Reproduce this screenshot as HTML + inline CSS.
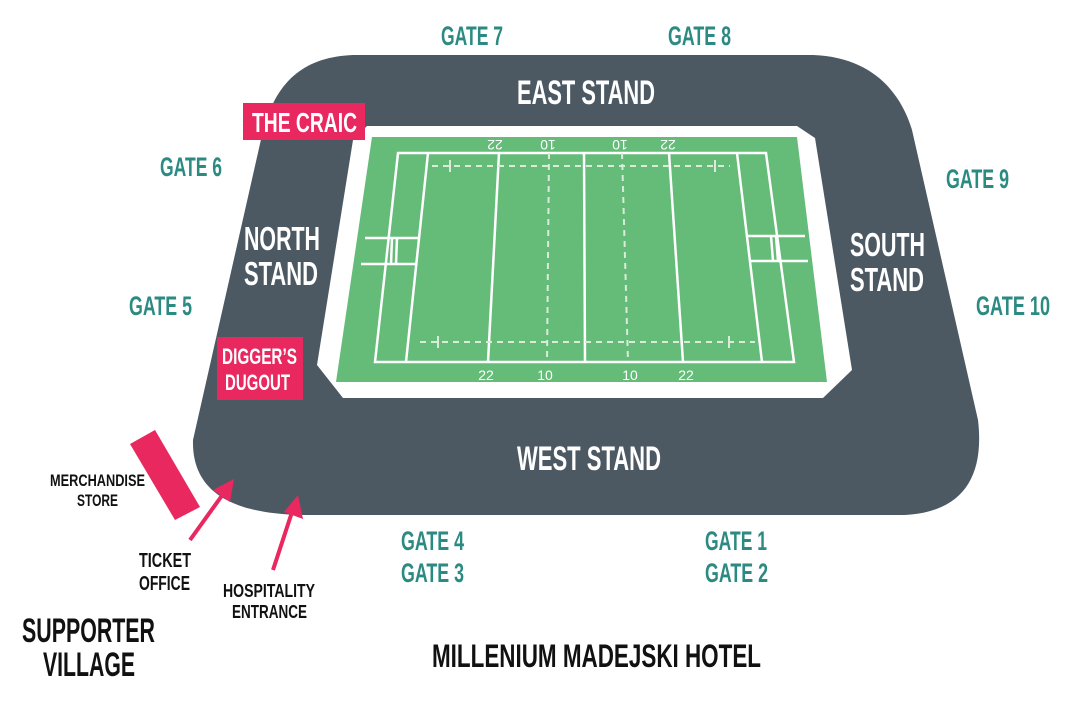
<!DOCTYPE html>
<html><head><meta charset="utf-8"><style>
html,body{margin:0;padding:0;background:#fff;}
svg{display:block}
text{font-family:"Liberation Sans Narrow","Liberation Sans",sans-serif;font-weight:bold;}
.g{fill:#2b8a82;font-size:27px}
.w{fill:#fff}
.k{fill:#111}
.n{font-family:"Liberation Sans",sans-serif;font-weight:normal;fill:#fff;font-size:14px}
</style></head><body>
<svg width="1077" height="703" viewBox="0 0 1077 703" xmlns="http://www.w3.org/2000/svg">
<rect width="1077" height="703" fill="#fff"/>
<!-- stadium -->
<path d="M353,55 L813,55 C870,57 900,90 912,130 L978,420 C985,480 960,512 905,515 L300,515 C215,513 192,480 193,440 L262,135 C275,80 305,57 353,55 Z" fill="#4c5963"/>
<!-- white border -->
<polygon points="367,126 797,126 815,138 852,370 823,398 343,398 317,365 353,140" fill="#fff"/>
<!-- field -->
<polygon points="372,137 797,137 827,382 336,382" fill="#64bc78"/>
<g stroke="#fff" stroke-width="2.5" fill="none">
<polygon points="398,153 766,153 794,362 375,362"/>
<line x1="428" y1="153" x2="406" y2="362"/>
<line x1="499" y1="153" x2="488" y2="362"/>
<line x1="584" y1="153" x2="585" y2="362"/>
<line x1="669" y1="153" x2="683" y2="362"/>
<line x1="737" y1="153" x2="762" y2="362"/>
<line x1="365" y1="238" x2="420" y2="238"/>
<line x1="361" y1="264" x2="416" y2="264"/>
<line x1="392" y1="238" x2="391" y2="264"/>
<line x1="397" y1="238" x2="396" y2="264"/>
<line x1="748" y1="236" x2="805" y2="236"/>
<line x1="750" y1="261" x2="808" y2="261"/>
<line x1="771" y1="236" x2="773" y2="261"/>
<line x1="776" y1="236" x2="778" y2="261"/>
</g>
<g stroke="#d8ecd9" stroke-width="2" fill="none" stroke-dasharray="6,5">
<line x1="549" y1="153" x2="547" y2="362"/>
<line x1="622" y1="153" x2="628" y2="362"/>
<line x1="432" y1="166" x2="730" y2="166"/>
<line x1="420" y1="342" x2="755" y2="342"/>
</g>
<g stroke="#d8ecd9" stroke-width="2">
<line x1="450" y1="160" x2="450" y2="172"/><line x1="715" y1="160" x2="715" y2="172"/>
<line x1="438" y1="336" x2="438" y2="348"/><line x1="729" y1="336" x2="729" y2="348"/>
</g>
<text class="n" text-anchor="middle" transform="translate(495,140) rotate(180)">22</text>
<text class="n" text-anchor="middle" transform="translate(548,140) rotate(180)">10</text>
<text class="n" text-anchor="middle" transform="translate(620,140) rotate(180)">10</text>
<text class="n" text-anchor="middle" transform="translate(668,140) rotate(180)">22</text>
<text class="n" x="486" y="380" text-anchor="middle">22</text>
<text class="n" x="545" y="380" text-anchor="middle">10</text>
<text class="n" x="630" y="380" text-anchor="middle">10</text>
<text class="n" x="686" y="380" text-anchor="middle">22</text>
<!-- pink boxes -->
<rect x="243" y="103" width="122" height="37" fill="#e8285f"/>
<text class="w" x="252" y="132" font-size="28" textLength="105" lengthAdjust="spacingAndGlyphs">THE CRAIC</text>
<rect x="217" y="337" width="86" height="63" fill="#e8285f"/>
<text class="w" x="222" y="364" font-size="22" textLength="75" lengthAdjust="spacingAndGlyphs">DIGGER’S</text>
<text class="w" x="225" y="390" font-size="22" textLength="65" lengthAdjust="spacingAndGlyphs">DUGOUT</text>
<polygon points="130,444 155,430 200,507 175,520" fill="#e8285f"/>
<!-- arrows -->
<g stroke="#e8285f" stroke-width="4">
<line x1="190" y1="540" x2="226" y2="490"/>
<line x1="273" y1="570" x2="294" y2="506"/>
</g>
<polygon points="234,479 230,502 213,490" fill="#e8285f"/>
<polygon points="298,495 303,519 284,512" fill="#e8285f"/>
<!-- stand labels -->
<text class="w" x="517" y="104" font-size="34" textLength="138" lengthAdjust="spacingAndGlyphs">EAST STAND</text>
<text class="w" x="517" y="470" font-size="34" textLength="144" lengthAdjust="spacingAndGlyphs">WEST STAND</text>
<text class="w" x="244" y="250" font-size="33" textLength="76" lengthAdjust="spacingAndGlyphs">NORTH</text>
<text class="w" x="244" y="285" font-size="33" textLength="74" lengthAdjust="spacingAndGlyphs">STAND</text>
<text class="w" x="850" y="256" font-size="33" textLength="75" lengthAdjust="spacingAndGlyphs">SOUTH</text>
<text class="w" x="850" y="291" font-size="33" textLength="74" lengthAdjust="spacingAndGlyphs">STAND</text>
<!-- gates -->
<text class="g" x="441" y="45" textLength="62" lengthAdjust="spacingAndGlyphs">GATE 7</text>
<text class="g" x="668" y="45" textLength="63" lengthAdjust="spacingAndGlyphs">GATE 8</text>
<text class="g" x="160" y="176" textLength="62" lengthAdjust="spacingAndGlyphs">GATE 6</text>
<text class="g" x="946" y="188" textLength="63" lengthAdjust="spacingAndGlyphs">GATE 9</text>
<text class="g" x="129" y="315" textLength="63" lengthAdjust="spacingAndGlyphs">GATE 5</text>
<text class="g" x="976" y="315" textLength="74" lengthAdjust="spacingAndGlyphs">GATE 10</text>
<text class="g" x="401" y="550" textLength="63" lengthAdjust="spacingAndGlyphs">GATE 4</text>
<text class="g" x="401" y="582" textLength="63" lengthAdjust="spacingAndGlyphs">GATE 3</text>
<text class="g" x="705" y="550" textLength="62" lengthAdjust="spacingAndGlyphs">GATE 1</text>
<text class="g" x="705" y="582" textLength="63" lengthAdjust="spacingAndGlyphs">GATE 2</text>
<!-- black labels -->
<text class="k" x="50" y="486" font-size="17" textLength="95" lengthAdjust="spacingAndGlyphs">MERCHANDISE</text>
<text class="k" x="77" y="506" font-size="17" textLength="41" lengthAdjust="spacingAndGlyphs">STORE</text>
<text class="k" x="139" y="567" font-size="20" textLength="52" lengthAdjust="spacingAndGlyphs">TICKET</text>
<text class="k" x="139" y="590" font-size="20" textLength="51" lengthAdjust="spacingAndGlyphs">OFFICE</text>
<text class="k" x="223" y="597" font-size="18" textLength="92" lengthAdjust="spacingAndGlyphs">HOSPITALITY</text>
<text class="k" x="232" y="618" font-size="18" textLength="75" lengthAdjust="spacingAndGlyphs">ENTRANCE</text>
<text class="k" x="22" y="642" font-size="34" textLength="133" lengthAdjust="spacingAndGlyphs">SUPPORTER</text>
<text class="k" x="43" y="676" font-size="34" textLength="92" lengthAdjust="spacingAndGlyphs">VILLAGE</text>
<text class="k" x="432" y="667" font-size="32" textLength="329" lengthAdjust="spacingAndGlyphs">MILLENIUM MADEJSKI HOTEL</text>
</svg>
</body></html>
